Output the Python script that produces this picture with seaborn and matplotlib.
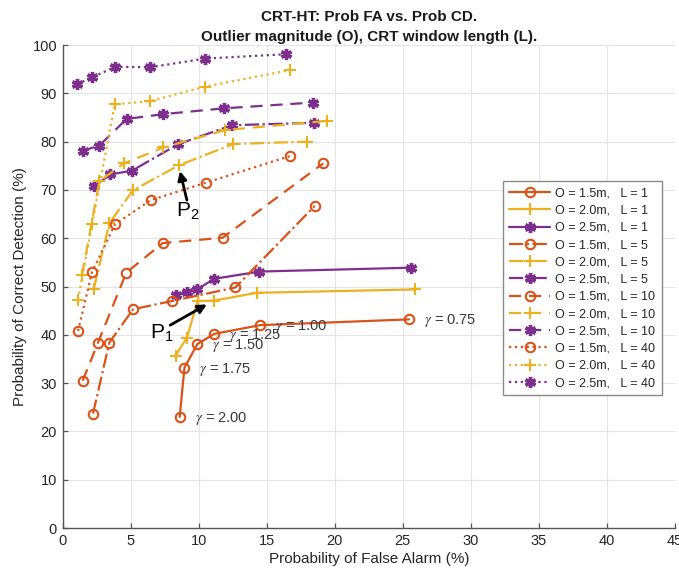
import matplotlib
matplotlib.use("Agg")
import matplotlib.pyplot as plt
import seaborn as sns
import pandas as pd

# ---------------- data ----------------
# O = 1.5 m
x_o15_L1 = [8.60, 8.95, 9.90, 11.15, 14.50, 25.45]
y_o15_L1 = [23.0, 33.2, 38.1, 40.2, 42.0, 43.2]
x_o15_L5 = [2.23, 3.43, 5.18, 8.03, 12.69, 18.53]
y_o15_L5 = [23.7, 38.4, 45.3, 47.0, 49.8, 66.7]
x_o15_L10 = [1.47, 2.60, 4.68, 7.36, 11.75, 19.15]
y_o15_L10 = [30.5, 38.4, 52.9, 59.0, 60.1, 75.5]
x_o15_L40 = [1.13, 2.16, 3.85, 6.48, 10.53, 16.69]
y_o15_L40 = [40.8, 53.0, 62.9, 67.9, 71.5, 77.0]
# O = 2.0 m
x_o20_L1 = [8.30, 9.13, 9.92, 11.15, 14.25, 25.90]
y_o20_L1 = [35.7, 39.4, 47.0, 47.1, 48.7, 49.4]
x_o20_L5 = [2.28, 3.43, 5.15, 8.55, 12.52, 17.97]
y_o20_L5 = [49.5, 63.1, 69.9, 75.1, 79.5, 80.0]
x_o20_L10 = [1.42, 2.70, 4.50, 7.41, 11.95, 19.44]
y_o20_L10 = [52.4, 71.8, 75.5, 78.8, 82.4, 84.3]
x_o20_L40 = [1.13, 2.16, 3.83, 6.43, 10.48, 16.69]
y_o20_L40 = [47.3, 62.9, 87.7, 88.4, 91.4, 94.8]
# O = 2.5 m
x_o25_L1 = [8.34, 9.13, 9.87, 11.14, 14.46, 25.60]
y_o25_L1 = [48.2, 48.9, 49.4, 51.6, 53.1, 53.9]
x_o25_L5 = [2.33, 3.50, 5.10, 8.51, 12.44, 18.45]
y_o25_L5 = [70.8, 73.2, 74.0, 79.5, 83.4, 83.9]
x_o25_L10 = [1.47, 2.70, 4.70, 7.41, 11.88, 18.41]
y_o25_L10 = [78.1, 79.2, 84.7, 85.7, 86.9, 88.1]
x_o25_L40 = [1.05, 2.16, 3.87, 6.43, 10.48, 16.42]
y_o25_L40 = [91.9, 93.3, 95.5, 95.4, 97.2, 98.1]

gamma_labels = ["2.00", "1.75", "1.50", "1.25", "1.00", "0.75"]
x_ticks = [0, 5, 10, 15, 20, 25, 30, 35, 40, 45]
y_ticks = [0, 10, 20, 30, 40, 50, 60, 70, 80, 90, 100]

# ---------------- style ----------------
sns.set_theme(style="white")
plt.rcParams["font.family"] = ["Liberation Sans", "DejaVu Sans"]
plt.rcParams["mathtext.fontset"] = "stix"

C_OR = "#D95319"
C_YE = "#EDB120"
C_PU = "#7E2F8E"
LS = {1: "-", 5: "-.", 10: (0, (5.5, 3.5)), 40: ":"}
ASTER = (6, 2, 0)

fig = plt.figure(figsize=(6.79, 5.76), dpi=100)
ax = fig.add_axes([0.0923, 0.0833, 0.9017, 0.8385])

series = [
    (x_o15_L1, y_o15_L1, "1.5", 1), (x_o20_L1, y_o20_L1, "2.0", 1), (x_o25_L1, y_o25_L1, "2.5", 1),
    (x_o15_L5, y_o15_L5, "1.5", 5), (x_o20_L5, y_o20_L5, "2.0", 5), (x_o25_L5, y_o25_L5, "2.5", 5),
    (x_o15_L10, y_o15_L10, "1.5", 10), (x_o20_L10, y_o20_L10, "2.0", 10), (x_o25_L10, y_o25_L10, "2.5", 10),
    (x_o15_L40, y_o15_L40, "1.5", 40), (x_o20_L40, y_o20_L40, "2.0", 40), (x_o25_L40, y_o25_L40, "2.5", 40),
]
for xs, ys, o, L in series:
    if o == "1.5":
        col, mk, ms, mfc, mew = C_OR, "o", 6.8, "none", 1.5
    elif o == "2.0":
        col, mk, ms, mfc, mew = C_YE, "+", 9, C_YE, 1.5
    else:
        col, mk, ms, mfc, mew = C_PU, ASTER, 8, C_PU, 2.4
    df = pd.DataFrame({"x": xs, "y": ys})
    sns.lineplot(data=df, x="x", y="y", ax=ax, sort=False, estimator=None,
                 color=col, linestyle=LS[L], linewidth=1.6, marker=mk,
                 markersize=ms, markerfacecolor=mfc, markeredgecolor=col,
                 markeredgewidth=mew, label=f"O = {o}m,   L = {L}")

# gamma labels next to the O=1.5, L=1 curve
for gx, gy, g in zip(x_o15_L1, y_o15_L1, gamma_labels):
    ax.text(gx + 1.1, gy - 0.3, r"$\gamma$ = " + g, ha="left", va="center",
            fontsize=10.5, color="#3a3a3a")

# P1 / P2 annotations
ax.annotate("", xy=(10.6, 46.3), xytext=(7.9, 42.0),
            arrowprops=dict(arrowstyle="-|>", color="black", lw=2, mutation_scale=13,
                            shrinkA=0, shrinkB=0))
ax.text(7.3, 40.4, r"$\mathregular{P_1}$", ha="center", va="center", fontsize=15, color="black")
ax.annotate("", xy=(8.62, 73.9), xytext=(9.13, 67.9),
            arrowprops=dict(arrowstyle="-|>", color="black", lw=2, mutation_scale=13,
                            shrinkA=0, shrinkB=0))
ax.text(9.2, 65.6, r"$\mathregular{P_2}$", ha="center", va="center", fontsize=15, color="black")

# axes styling
ax.set_xlim(0, 45)
ax.set_ylim(0, 100)
ax.set_xticks(x_ticks)
ax.set_yticks(y_ticks)
ax.grid(True, color="#e4e4e4", linewidth=0.8)
ax.set_axisbelow(True)
for s in ["top", "right"]:
    ax.spines[s].set_visible(False)
for s in ["left", "bottom"]:
    ax.spines[s].set_color("#555555")
    ax.spines[s].set_linewidth(1.0)
ax.tick_params(direction="in", length=3.5, width=0.9, colors="#555555",
               labelcolor="#262626", labelsize=10.5, pad=4, left=True, bottom=True)
ax.set_xlabel("Probability of False Alarm (%)", fontsize=11, color="#262626", labelpad=3)
ax.set_ylabel("Probability of Correct Detection (%)", fontsize=11, color="#262626", labelpad=4)
ax.set_title("CRT-HT: Prob FA vs. Prob CD.\nOutlier magnitude (O), CRT window length (L).",
             fontsize=11, fontweight="bold", color="#1a1a1a", pad=3, linespacing=1.55)

leg = ax.legend(loc="upper left", bbox_to_anchor=(0.719, 0.718), fontsize=9,
                frameon=True, fancybox=False, edgecolor="#8a8a8a", framealpha=1,
                handlelength=3.3, handletextpad=0.4, labelspacing=0.42, borderpad=0.5,
                borderaxespad=0)
leg.get_frame().set_linewidth(1.0)

fig.savefig("out.png", dpi=100)
